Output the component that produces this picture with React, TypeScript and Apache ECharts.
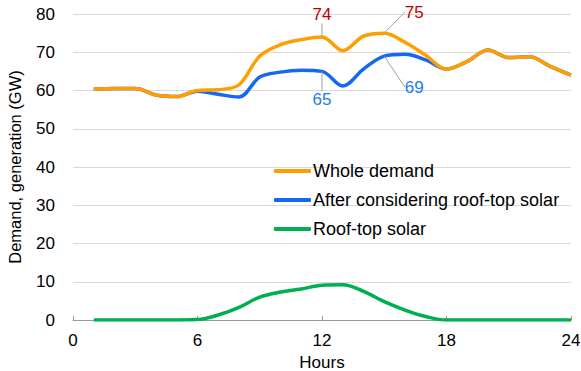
import React, { useEffect, useRef } from "react";
import * as echarts from "echarts";

const hours = [1, 2, 3, 4, 5, 6, 7, 8, 9, 10, 11, 12, 13, 14, 15, 16, 17, 18, 19, 20, 21, 22, 23, 24];
const wholeDemand = [60.3, 60.5, 60.5, 58.8, 58.4, 60.0, 60.2, 61.5, 69.0, 72.0, 73.3, 74.0, 70.4, 74.2, 75.0, 72.6, 69.2, 65.6, 67.6, 70.6, 68.6, 68.8, 66.3, 64.0];
const afterRoofTop = [60.3, 60.5, 60.5, 58.8, 58.4, 59.8, 59.0, 58.3, 63.5, 64.8, 65.3, 65.0, 61.2, 65.6, 69.0, 69.5, 68.0, 65.6, 67.6, 70.6, 68.6, 68.8, 66.3, 64.0];
const roofTopSolar = [0, 0, 0, 0, 0, 0.1, 1.3, 3.3, 6.0, 7.3, 8.1, 9.1, 9.2, 7.5, 4.8, 2.6, 0.9, 0, 0, 0, 0, 0, 0, 0];
const xTicks = [0, 6, 12, 18, 24];
const seriesNames = ["Whole demand", "After considering roof-top solar", "Roof-top solar"];
// labelled points: [series index, hour]
const labelledPoints: [number, number][] = [[0, 12], [0, 15], [1, 12], [1, 15]];

export default function App() {
  const ref = useRef<HTMLDivElement>(null);
  useEffect(() => {
    document.body.style.margin = "0";
    if (!ref.current) return;
    const chart = echarts.init(ref.current, undefined, { renderer: "svg" });
    const font = "'Liberation Sans', Arial, sans-serif";
    const colors = ["#FF9E00", "#1568F2", "#00B050"];
    const labelColors = ["#C00000", "#1E7BF0"];
    const offsets: Record<string, [number, number]> = {
      "0-12": [0, -22],
      "0-15": [30, -21],
      "1-12": [0, 28],
      "1-15": [30, 31],
    };
    const build = (vals: number[], si: number) =>
      vals.map((v, i) => {
        const h = hours[i];
        const lab = labelledPoints.some(([s, hh]) => s === si && hh === h);
        return lab
          ? {
              value: [h, v],
              symbol: "circle",
              symbolSize: 0.5,
              itemStyle: { color: "rgba(0,0,0,0)", borderWidth: 0 },
              label: {
                show: true,
                formatter: String(Math.round(v)),
                color: labelColors[si],
                fontSize: 17,
                fontFamily: font,
                position: "inside",
                opacity: 1,
              },
              labelLine: { show: true, lineStyle: { color: "#A0A0A0", width: 1, opacity: 1 } },
            }
          : { value: [h, v], symbol: "none" };
      });
    const allVals = [wholeDemand, afterRoofTop, roofTopSolar];
    chart.setOption({
      animation: false,
      grid: { left: 73, right: 10, top: 14, bottom: 51, outerBoundsMode: "none", containLabel: false },
      legend: {
        orient: "vertical",
        left: 269,
        top: 157,
        itemWidth: 37,
        itemHeight: 4,
        itemGap: 11,
        icon: "roundRect",
        textStyle: { fontSize: 18, lineHeight: 18, fontFamily: font, color: "#000", padding: [0, 0, 0, -3] },
        data: seriesNames,
      },
      xAxis: {
        type: "value",
        min: 0,
        max: 24,
        interval: 6,
        name: "Hours",
        nameLocation: "middle",
        nameGap: 33,
        nameTextStyle: { fontSize: 17, fontFamily: font, color: "#000" },
        axisLine: { lineStyle: { color: "#999" } },
        axisTick: { show: true, inside: true, length: 4, lineStyle: { color: "#999" } },
        axisLabel: { fontSize: 17, fontFamily: font, color: "#000", margin: 12, customValues: xTicks },
        splitLine: { show: false },
      },
      yAxis: {
        type: "value",
        min: 0,
        max: 80,
        interval: 10,
        name: "Demand, generation (GW)",
        nameLocation: "middle",
        nameGap: 50,
        nameTextStyle: { fontSize: 16.5, fontFamily: font, color: "#000" },
        axisLine: { show: false },
        axisTick: { show: false },
        axisLabel: { fontSize: 17, fontFamily: font, color: "#000", margin: 18 },
        splitLine: { lineStyle: { color: "#D9D9D9", width: 1 } },
      },
      series: allVals.map((vals, si) => ({
        name: seriesNames[si],
        type: "line",
        smooth: 0.35,
        showSymbol: true,
        z: 3 - si,
        color: colors[si],
        lineStyle: { width: 3.5, color: colors[si] },
        data: build(vals, si),
        labelLayout: (p: any) => {
          const h = hours[p.dataIndex];
          const o = offsets[`${si}-${h}`];
          if (!o) return {};
          return { dx: o[0], dy: o[1] };
        },
      })),
    });
    return () => chart.dispose();
  }, []);
  return <div ref={ref} style={{ width: 581, height: 371 }} />;
}
